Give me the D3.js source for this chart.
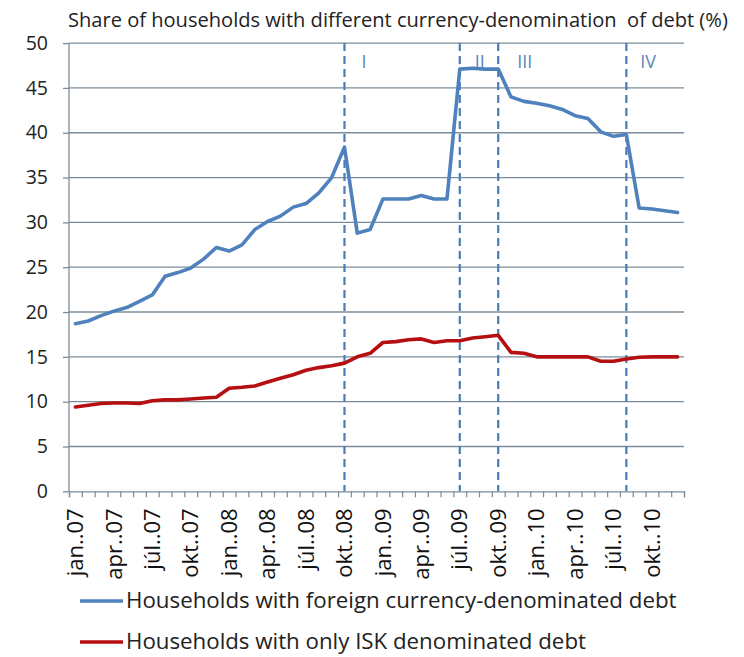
<!DOCTYPE html>
<html>
<head>
<meta charset="utf-8">
<script src="https://cdn.jsdelivr.net/npm/d3@7"></script>
<style>
  html, body { margin: 0; padding: 0; background: #fff; }
  svg { display: block; font-family: "Open Sans", "Noto Sans", sans-serif; }
</style>
</head>
<body>
<svg id="chart" width="744" height="657"></svg>
<script>
// Months Jan 2007 – Dec 2010 (Icelandic abbreviations)
const monthNames = ["jan", "feb", "mar", "apr", "maí", "jún", "júl", "ágú", "sep", "okt", "nóv", "des"];
const years = ["07", "08", "09", "10"];
const months = years.flatMap(y => monthNames.map(m => m + ".." + y));

// Share of households with foreign currency-denominated debt (%)
const foreignDebt = [
  18.7, 19.0, 19.6, 20.1, 20.5, 21.2, 21.9, 24.0, 24.4, 24.9, 25.9, 27.2,
  26.8, 27.5, 29.2, 30.1, 30.7, 31.7, 32.1, 33.3, 35.0, 38.4, 28.8, 29.2,
  32.6, 32.6, 32.6, 33.0, 32.6, 32.6, 47.1, 47.2, 47.1, 47.1, 44.0, 43.5,
  43.3, 43.0, 42.6, 41.9, 41.6, 40.1, 39.6, 39.8, 31.6, 31.5, 31.3, 31.1
];

// Share of households with only ISK denominated debt (%)
const iskDebt = [
  9.4, 9.6, 9.8, 9.85, 9.85, 9.8, 10.1, 10.2, 10.2, 10.3, 10.4, 10.5,
  11.5, 11.6, 11.75, 12.2, 12.6, 13.0, 13.5, 13.8, 14.0, 14.3, 15.0, 15.4,
  16.6, 16.7, 16.9, 17.0, 16.6, 16.8, 16.8, 17.1, 17.25, 17.4, 15.5, 15.4,
  15.0, 15.0, 15.0, 15.0, 15.0, 14.5, 14.5, 14.75, 14.95, 15.0, 15.0, 15.0
];

// Period dividers
const dividerMonths = ["okt..08", "júl..09", "okt..09", "ágú..10"];
const dividerLabels = ["I", "II", "III", "IV"];

const yTicks = [0, 5, 10, 15, 20, 25, 30, 35, 40, 45, 50];
const xLabelMonths = months.filter((m, i) => i % 3 === 0);

const title = "Share of households with different currency-denomination  of debt (%)";
const seriesNames = [
  "Households with foreign currency-denominated debt",
  "Households with only ISK denominated debt"
];
const seriesColors = ["#4f81bd", "#b50f12"];

const svg = d3.select("#chart");
const plotLeft = 69, plotRight = 684, plotTop = 43.1, plotBottom = 491.3;

const x = d3.scaleBand().domain(months).range([plotLeft, plotRight]).paddingInner(0).paddingOuter(0);
const xEdge = d3.scaleLinear().domain([0, months.length]).range([plotLeft, plotRight]);
const y = d3.scaleLinear().domain([0, 50]).range([plotBottom, plotTop]);
const cx = m => x(m) + x.bandwidth() / 2;

const gridColor = "#7d8c9a";

// Scale a text element's font size so it spans the given width
function fitWidth(sel, width) {
  sel.each(function () {
    const base = parseFloat(this.getAttribute("font-size"));
    const w = this.getComputedTextLength();
    if (w > 0) this.setAttribute("font-size", (base * width / w).toFixed(2));
  });
}

// Title
svg.append("text")
  .attr("x", 68).attr("y", 27)
  .attr("font-size", 17)
  .attr("fill", "#222")
  .style("white-space", "pre")
  .text(title)
  .call(fitWidth, 660);

// Small ticks left of the axis, with value labels
const yAxis = d3.axisLeft(y).tickValues(yTicks).tickSize(6).tickPadding(15);
const gy = svg.append("g").attr("transform", `translate(${plotLeft},0)`).call(yAxis);
gy.select(".domain").remove();
gy.selectAll(".tick line").attr("stroke", gridColor).attr("stroke-width", 1.3);
gy.selectAll(".tick text").attr("font-size", 19.5).attr("fill", "#222")
  .attr("font-family", "'Open Sans', sans-serif");

// Horizontal gridlines
svg.append("g").selectAll("line")
  .data(yTicks.filter(v => v > 0))
  .join("line")
  .attr("x1", plotLeft).attr("x2", plotRight)
  .attr("y1", d => y(d)).attr("y2", d => y(d))
  .attr("stroke", gridColor).attr("stroke-width", 1.3);

// Vertical axis line
svg.append("line")
  .attr("x1", plotLeft).attr("x2", plotLeft).attr("y1", plotTop).attr("y2", plotBottom)
  .attr("stroke", gridColor).attr("stroke-width", 1.3);

// Category axis: tick marks between months
const edgeAxis = d3.axisBottom(xEdge).tickValues(d3.range(0, months.length + 1)).tickSize(6).tickFormat("");
const gx = svg.append("g").attr("transform", `translate(0,${plotBottom})`).call(edgeAxis);
gx.select(".domain").attr("stroke", gridColor).attr("stroke-width", 1.3);
gx.selectAll(".tick line").attr("stroke", gridColor).attr("stroke-width", 1.2);

// Category labels every third month, rotated
const labelAxis = d3.axisBottom(x).tickValues(xLabelMonths).tickSize(0).tickPadding(0);
const gl = svg.append("g").attr("transform", `translate(0,${plotBottom})`).call(labelAxis);
gl.select(".domain").remove();
const xLabels = gl.selectAll(".tick text")
  .attr("font-size", 17)
  .attr("font-family", "'Open Sans', sans-serif")
  .attr("fill", "#111")
  .attr("text-anchor", "end")
  .attr("dy", "0.35em")
  .attr("transform", "translate(0,17) rotate(-90)")
  .attr("x", 0).attr("y", 0);
// size all labels from the width of "jan..07"
{
  const ref = xLabels.filter(d => d === "jan..07").node();
  const s = 17 * 68 / ref.getComputedTextLength();
  xLabels.attr("font-size", s.toFixed(2));
}

// Period dividers
const dividerColor = "#4a7db5";
svg.append("g").selectAll("line")
  .data(dividerMonths)
  .join("line")
  .attr("x1", d => cx(d)).attr("x2", d => cx(d))
  .attr("y1", plotTop).attr("y2", plotBottom)
  .attr("stroke", dividerColor).attr("stroke-width", 2.2)
  .attr("stroke-dasharray", "8,5");

const labelOffsets = [17, 15, 19, 14];
svg.append("g").selectAll("text")
  .data(dividerMonths)
  .join("text")
  .attr("x", (d, i) => cx(d) + labelOffsets[i])
  .attr("y", 68)
  .attr("font-size", 18)
  .attr("fill", "#5b88bb")
  .text((d, i) => dividerLabels[i]);

// Series lines
const line = d3.line().x((d, i) => cx(months[i])).y(d => y(d));
[foreignDebt, iskDebt].forEach((series, k) => {
  svg.append("path")
    .datum(series)
    .attr("d", line)
    .attr("fill", "none")
    .attr("stroke", seriesColors[k])
    .attr("stroke-width", 3.6)
    .attr("stroke-linejoin", "round")
    .attr("stroke-linecap", "round");
});

// Legend
const legendY = [600, 641];
const legendWidths = [551, 460];
const legend = svg.append("g").selectAll("g")
  .data(seriesNames)
  .join("g")
  .attr("transform", (d, i) => `translate(0,${legendY[i]})`);
legend.append("line")
  .attr("x1", 80).attr("x2", 123).attr("y1", 1).attr("y2", 1)
  .attr("stroke", (d, i) => seriesColors[i]).attr("stroke-width", 3.6);
legend.append("text")
  .attr("x", 126).attr("y", 0).attr("dy", "0.35em")
  .attr("font-size", 20)
  .attr("fill", "#222")
  .text(d => d)
  .each(function (d, i) { d3.select(this).call(fitWidth, legendWidths[i]); });
</script>
</body>
</html>
